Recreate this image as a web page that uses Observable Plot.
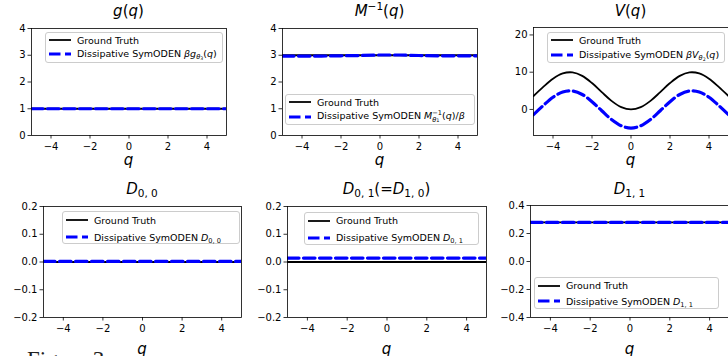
<!DOCTYPE html>
<html><head><meta charset="utf-8">
<script src="https://cdn.jsdelivr.net/npm/d3@7"></script>
<script src="https://cdn.jsdelivr.net/npm/@observablehq/plot@0.6"></script>
<style>
html,body{margin:0;padding:0;background:#fff;overflow:hidden;}
#wrap{position:relative;width:728px;height:356px;overflow:hidden;font-family:"DejaVu Sans";color:#000;}
.title{position:absolute;font-size:15px;line-height:15px;white-space:nowrap;transform:translateX(-50%);}
.xlab{position:absolute;font-size:15px;line-height:12px;font-style:oblique;transform:translateX(-50%);}
.leg{position:absolute;border:1px solid #cccccc;border-radius:3px;background:rgba(255,255,255,0.8);box-sizing:border-box;}
.row{position:absolute;height:14px;display:flex;align-items:center;font-size:9.5px;white-space:nowrap;}
.row svg{position:absolute;left:0;top:4px;}
.row span.t{position:absolute;white-space:nowrap;}
i{font-style:oblique;}
.sb{font-size:0.7em;vertical-align:-0.3em;line-height:0;}
.sp{font-size:0.7em;vertical-align:0.55em;line-height:0;}
.ss{display:inline-flex;flex-direction:column;font-size:0.7em;line-height:1;vertical-align:0.5em;}
.fig{position:absolute;left:27px;top:348px;font-family:"Liberation Serif";font-size:23px;line-height:23px;color:#222;}
</style>
</head><body>
<div id="wrap"></div>
<script>
// ---- data ----
const qFlat = [-5, -4, -3, -2, -1, 0, 1, 2, 3, 4, 5];
const gTruth = [1, 1, 1, 1, 1, 1, 1, 1, 1, 1, 1];
const gPred  = [1.0, 1.0, 1.0, 1.0, 1.0, 1.0, 1.0, 1.0, 1.0, 1.0, 1.0];
const mTruth = [3, 3, 3, 3, 3, 3, 3, 3, 3, 3, 3];
const mPred  = [2.97, 2.97, 2.97, 2.98, 2.99, 3.01, 3.01, 2.99, 2.98, 2.98, 2.98];
const qV = [-5, -4.5, -4, -3.5, -3, -2.5, -2, -1.5, -1, -0.5, 0, 0.5, 1, 1.5, 2, 2.5, 3, 3.5, 4, 4.5, 5];
const vTruth = [3.58, 6.05, 8.27, 9.68, 9.95, 9.01, 7.08, 4.65, 2.30, 0.61, 0, 0.61, 2.30, 4.65, 7.08, 9.01, 9.95, 9.68, 8.27, 6.05, 3.58];
const vPred  = [-1.42, 1.05, 3.27, 4.68, 4.95, 4.01, 2.08, -0.35, -2.70, -4.39, -5, -4.39, -2.70, -0.35, 2.08, 4.01, 4.95, 4.68, 3.27, 1.05, -1.42];
const d00Truth = [0, 0, 0, 0, 0, 0, 0, 0, 0, 0, 0];
const d00Pred  = [0.002, 0.002, 0.002, 0.002, 0.002, 0.002, 0.002, 0.002, 0.002, 0.002, 0.002];
const d01Truth = [0, 0, 0, 0, 0, 0, 0, 0, 0, 0, 0];
const d01Pred  = [0.014, 0.014, 0.014, 0.014, 0.014, 0.014, 0.014, 0.014, 0.014, 0.014, 0.014];
const d11Truth = [0.28, 0.28, 0.28, 0.28, 0.28, 0.28, 0.28, 0.28, 0.28, 0.28, 0.28];
const d11Pred  = [0.279, 0.279, 0.279, 0.279, 0.279, 0.279, 0.279, 0.279, 0.279, 0.279, 0.279];
const xTicks = [-4, -2, 0, 2, 4];
const yTicksG = [0, 1, 2, 3, 4];
const yTicksV = [0, 10, 20];
const yTicksD = [-0.2, -0.1, 0.0, 0.1, 0.2];
const yTicksD11 = [-0.4, -0.2, 0.0, 0.2, 0.4];
const truthLabel = "Ground Truth";
const predPrefix = "Dissipative SymODEN ";

const minus = s => String(s).replace("-", "\u2212");
const fmtInt = d => minus(d);
const fmt1 = d => minus(d.toFixed(1));

const panels = [
  {L:31, R:226, T:28, B:135, q:qFlat, truth:gTruth, pred:gPred, yd:[0,4], yt:yTicksG, yf:fmtInt, curve:"linear",
   title:'<i>g</i>(<i>q</i>)',
   pl:'<i>β</i><i>g</i><span class="sb"><i>θ</i><span class="sb">3</span></span>(<i>q</i>)',
   leg:{L:45, T:32, W:178, H:31, r1:8, r2:22}},
  {L:282, R:477, T:28, B:135, q:qFlat, truth:mTruth, pred:mPred, yd:[0,4], yt:yTicksG, yf:fmtInt, curve:"linear",
   title:'<i>M</i><span class="sp">\u22121</span>(<i>q</i>)',
   pl:'<i>M</i><span class="ss"><span>\u22121</span><span><i>θ</i><span style="font-size:0.75em">1</span></span></span>(<i>q</i>)/<i>β</i>',
   leg:{L:285, T:94, W:190, H:31, r1:8, r2:22.5}},
  {L:533, R:728, T:27, B:135, q:qV, truth:vTruth, pred:vPred, yd:[-7,22], yt:yTicksV, yf:fmtInt, curve:"catmull-rom",
   title:'<i>V</i>(<i>q</i>)',
   pl:'<i>β</i><i>V</i><span class="sb"><i>θ</i><span class="sb">2</span></span>(<i>q</i>)',
   leg:{L:547, T:32, W:178, H:31, r1:8, r2:22.5}},
  {L:43, R:241, T:206, B:317, q:qFlat, truth:d00Truth, pred:d00Pred, yd:[-0.2,0.2], yt:yTicksD, yf:fmt1, curve:"linear",
   title:'<i>D</i><span class="sb">0, 0</span>',
   pl:'<i>D</i><span class="sb">0, 0</span>',
   leg:{L:62, T:211, W:178, H:33, r1:9, r2:26}},
  {L:287, R:486, T:206, B:317, q:qFlat, truth:d01Truth, pred:d01Pred, yd:[-0.2,0.2], yt:yTicksD, yf:fmt1, curve:"linear",
   title:'<i>D</i><span class="sb">0, 1</span>(=<i>D</i><span class="sb">1, 0</span>)',
   pl:'<i>D</i><span class="sb">0, 1</span>',
   leg:{L:304, T:212, W:175, H:33, r1:8.5, r2:25.5}},
  {L:530, R:729, T:205, B:317, q:qFlat, truth:d11Truth, pred:d11Pred, yd:[-0.4,0.4], yt:yTicksD11, yf:fmt1, curve:"linear",
   title:'<i>D</i><span class="sb">1, 1</span>',
   pl:'<i>D</i><span class="sb">1, 1</span>',
   leg:{L:534, T:277, W:185, H:32, r1:8.5, r2:24}}
];

const wrap = document.getElementById("wrap");
const mL = 40, mR = 10, mT = 10, mB = 28;
const DASH = "11.5,4.5";

panels.forEach((p, i) => {
  const rowsT = p.q.map((q, k) => ({q, v: p.truth[k]}));
  const rowsP = p.q.map((q, k) => ({q, v: p.pred[k]}));
  const W = p.R - p.L, H = p.B - p.T;
  const svg = Plot.plot({
    width: W + mL + mR, height: H + mT + mB,
    marginLeft: mL, marginRight: mR, marginTop: mT, marginBottom: mB,
    style: {fontFamily: "DejaVu Sans", fontSize: "10px", color: "black", background: "transparent", overflow: "visible"},
    x: {domain: [-5, 5]},
    y: {domain: p.yd},
    marks: [
      Plot.line(rowsT, {x: "q", y: "v", stroke: "black", strokeWidth: 1.8, curve: p.curve, clip: true}),
      Plot.line(rowsP, {x: "q", y: "v", stroke: "#0000ff", strokeWidth: 3.2, strokeDasharray: DASH, curve: p.curve, clip: true}),
      Plot.frame({stroke: "black", strokeWidth: 0.8}),
      Plot.axisX({ticks: xTicks, tickFormat: fmtInt, tickSize: 3.5, tickPadding: 3.5, strokeWidth: 0.8, label: null}),
      Plot.axisY({ticks: p.yt, tickFormat: p.yf, tickSize: 3.5, tickPadding: 2.5, strokeWidth: 0.8, label: null})
    ]
  });
  svg.style.position = "absolute";
  svg.style.left = (p.L - mL) + "px";
  svg.style.top = (p.T - mT) + "px";
  svg.style.maxWidth = "none";
  wrap.appendChild(svg);

  const cx = (p.L + p.R) / 2;
  const top = i < 3;
  const t = document.createElement("div");
  t.className = "title";
  t.style.left = cx + "px";
  t.style.top = (top ? 4 : 182) + "px";
  t.innerHTML = p.title;
  wrap.appendChild(t);

  const xl = document.createElement("div");
  xl.className = "xlab";
  xl.style.left = cx + "px";
  xl.style.top = (top ? 153.5 : 342.5) + "px";
  xl.textContent = "q";
  wrap.appendChild(xl);

  const lg = p.leg;
  const box = document.createElement("div");
  box.className = "leg";
  box.style.left = lg.L + "px"; box.style.top = lg.T + "px";
  box.style.width = lg.W + "px"; box.style.height = lg.H + "px";
  const mk = (cy, blue, html) => {
    const r = document.createElement("div");
    r.className = "row";
    r.style.left = "3px"; r.style.top = (cy - 7 - 1) + "px";
    r.innerHTML = `<svg width="22" height="6"><line x1="0" y1="3" x2="22" y2="3" stroke="${blue ? '#0000ff' : 'black'}" stroke-width="${blue ? 3.2 : 1.8}" ${blue ? 'stroke-dasharray="' + DASH + '"' : ''}/></svg><span class="t" style="left:28px">${html}</span>`;
    box.appendChild(r);
  };
  mk(lg.r1, false, truthLabel);
  mk(lg.r2, true, predPrefix + p.pl);
  wrap.appendChild(box);
});

const fig = document.createElement("div");
fig.className = "fig";
fig.textContent = "Figure 3:";
wrap.appendChild(fig);
</script>
</body></html>
